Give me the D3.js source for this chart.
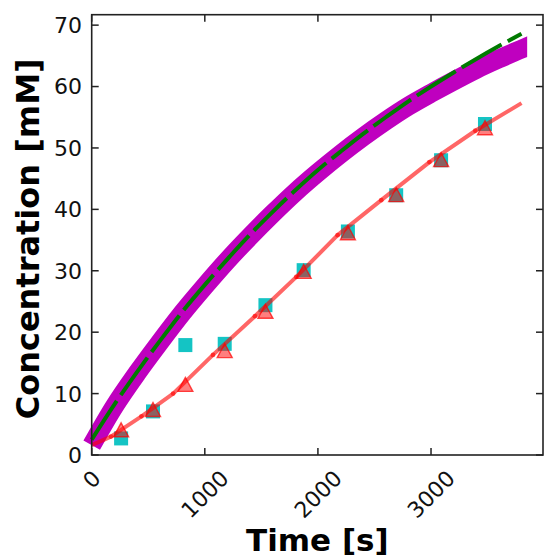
<!DOCTYPE html>
<html>
<head>
<meta charset="utf-8">
<script src="https://cdn.jsdelivr.net/npm/d3@7"></script>
<style>
  body { margin: 0; background: #fff; }
  text { font-family: "DejaVu Sans", sans-serif; }
</style>
</head>
<body>
<svg width="544" height="559"></svg>
<script>
// **** Data ****

// thick magenta band (model curve)
var bandTime = [0, 200, 400, 600, 800, 1000, 1200, 1400, 1600, 1800, 2000,
                2200, 2400, 2600, 2800, 3000, 3200, 3400, 3600, 3800, 3900];
var bandConc = [1.6, 7.9, 13.3, 18.3, 23.1, 27.5, 31.7, 35.6, 39.3, 42.8, 46.0,
                49.0, 51.8, 54.4, 56.8, 58.9, 60.9, 62.8, 64.5, 66.1, 66.9];
var bandEnd = 3850;

// green dashed curve
var fitTime = [0, 200, 400, 600, 800, 1000, 1200, 1400, 1600, 1800, 2000,
               2200, 2400, 2600, 2800, 3000, 3200, 3400, 3600, 3800];
var fitConc = [2.5, 8.2, 13.5, 18.5, 23.3, 27.7, 31.9, 35.9, 39.6, 43.1, 46.4,
               49.4, 52.3, 55.0, 57.6, 60.0, 62.3, 64.5, 66.6, 68.6];

// red line with small dots
var simTime = [0, 170, 440, 720, 1072, 1443, 1809, 2174, 2560, 2986, 3392, 3800];
var simConc = [1.6, 3.0, 6.3, 10.0, 16.3, 22.6, 29.0, 35.8, 41.5, 47.7, 52.8, 57.3];

// measured points
var pointTime = [260, 542, 828, 1176, 1536, 1874, 2265, 2692, 3089, 3477];
var squareConc = [2.7, 7.1, 17.9, 18.1, 24.4, 30.1, 36.4, 42.3, 48.0, 53.9];
var triangleConc = [4.1, 7.4, 11.5, 17.0, 23.4, 29.9, 36.2, 42.4, 48.1, 53.3];

var xTicks = [0, 1000, 2000, 3000];
var yTicks = [0, 10, 20, 30, 40, 50, 60, 70];

// **** Scales ****

var xScale = d3.scaleLinear().domain([0, 3990]).range([91.7, 543]);
var yScale = d3.scaleLinear().domain([0, 71.7]).range([455, 14.7]);

var svg = d3.select('svg');

svg.append('clipPath').attr('id', 'bandClip')
    .append('rect')
    .attr('x', 0).attr('y', 0)
    .attr('width', xScale(bandEnd))
    .attr('height', yScale(0));

function pairs(ts, cs) {
    return ts.map(function(t, i) { return [t, cs[i]]; });
}

var line = d3.line()
    .x(function(d) { return xScale(d[0]); })
    .y(function(d) { return yScale(d[1]); })
    .curve(d3.curveMonotoneX);

// magenta band
svg.append('path')
    .attr('d', line(pairs(bandTime, bandConc)))
    .attr('clip-path', 'url(#bandClip)')
    .style('fill', 'none')
    .style('stroke', '#bf00bf')
    .style('stroke-width', 19)
    .style('stroke-linecap', 'butt');

// green dashed line
svg.append('path')
    .attr('d', line(pairs(fitTime, fitConc)))
    .style('fill', 'none')
    .style('stroke', '#007a00')
    .style('stroke-width', 4)
    .style('stroke-dasharray', '46,7');

// cyan squares
var sq = 14;
svg.selectAll('rect.sq')
    .data(pairs(pointTime, squareConc))
    .enter()
    .append('rect')
    .attr('class', 'sq')
    .attr('x', function(d) { return xScale(d[0]) - sq / 2; })
    .attr('y', function(d) { return yScale(d[1]) - sq / 2; })
    .attr('width', sq)
    .attr('height', sq)
    .style('fill', '#00bfbf')
    .style('opacity', 0.92);

// red line
var simLine = d3.line()
    .x(function(d) { return xScale(d[0]); })
    .y(function(d) { return yScale(d[1]); })
    .curve(d3.curveLinear);

svg.append('path')
    .attr('d', simLine(pairs(simTime, simConc)))
    .style('fill', 'none')
    .style('stroke', 'red')
    .style('stroke-opacity', 0.6)
    .style('stroke-width', 4)
    .style('stroke-linejoin', 'round');

svg.selectAll('circle.dot')
    .data(pairs(simTime, simConc).slice(1, -1))
    .enter()
    .append('circle')
    .attr('class', 'dot')
    .attr('cx', function(d) { return xScale(d[0]); })
    .attr('cy', function(d) { return yScale(d[1]); })
    .attr('r', 2.4)
    .style('fill', 'red')
    .style('opacity', 0.6);

// red triangles
var tw = 15, th = 14;
svg.selectAll('path.tri')
    .data(pairs(pointTime, triangleConc))
    .enter()
    .append('path')
    .attr('class', 'tri')
    .attr('transform', function(d) {
        return 'translate(' + xScale(d[0]) + ',' + yScale(d[1]) + ')';
    })
    .attr('d', 'M0,' + (-th / 2) + 'L' + (tw / 2) + ',' + (th / 2) + 'L' + (-tw / 2) + ',' + (th / 2) + 'Z')
    .style('fill', 'red')
    .style('fill-opacity', 0.5)
    .style('stroke', 'red')
    .style('stroke-opacity', 0.7)
    .style('stroke-width', 1.4);

// **** Frame, ticks and labels ****

var x0 = xScale.range()[0], x1 = xScale.range()[1];
var y0 = yScale.range()[0], y1 = yScale.range()[1];
var tickLen = 7;

svg.append('rect')
    .attr('x', x0).attr('y', y1)
    .attr('width', x1 - x0).attr('height', y0 - y1)
    .style('fill', 'none')
    .style('stroke', '#222')
    .style('stroke-width', 1.6);

var ticks = svg.append('g').style('stroke', '#222').style('stroke-width', 1.5);

xTicks.forEach(function(t) {
    ticks.append('line').attr('x1', xScale(t)).attr('x2', xScale(t))
        .attr('y1', y0).attr('y2', y0 - tickLen);
    ticks.append('line').attr('x1', xScale(t)).attr('x2', xScale(t))
        .attr('y1', y1).attr('y2', y1 + tickLen);
});

yTicks.forEach(function(v) {
    ticks.append('line').attr('x1', x0).attr('x2', x0 + tickLen)
        .attr('y1', yScale(v)).attr('y2', yScale(v));
    ticks.append('line').attr('x1', x1).attr('x2', x1 - tickLen)
        .attr('y1', yScale(v)).attr('y2', yScale(v));
});

// y tick labels
svg.selectAll('text.ylab')
    .data(yTicks)
    .enter()
    .append('text')
    .attr('class', 'ylab')
    .attr('x', 82)
    .attr('y', function(d) { return yScale(d); })
    .attr('dy', '0.36em')
    .attr('text-anchor', 'end')
    .style('font-size', '22px')
    .style('fill', '#111')
    .text(function(d) { return d; });

// x tick labels, rotated 45 degrees and centred under the tick
xTicks.forEach(function(t) {
    var lab = svg.append('text')
        .attr('text-anchor', 'middle')
        .attr('dy', '0.36em')
        .style('font-size', '22px')
        .style('fill', '#111')
        .text(t);
    var len = lab.node().getComputedTextLength();
    var cy = y0 + 14 + 0.3535 * (len + 15);
    lab.attr('transform', 'translate(' + xScale(t) + ',' + cy + ') rotate(-45)');
});

// axis titles
svg.append('text')
    .attr('x', (x0 + x1) / 2)
    .attr('y', 551)
    .attr('text-anchor', 'middle')
    .style('font-size', '31px')
    .style('font-weight', 'bold')
    .text('Time [s]');

svg.append('text')
    .attr('transform', 'translate(39,' + ((y0 + y1) / 2 + 4) + ') rotate(-90)')
    .attr('text-anchor', 'middle')
    .style('font-size', '32px')
    .style('font-weight', 'bold')
    .text('Concentration [mM]');
</script>
</body>
</html>
